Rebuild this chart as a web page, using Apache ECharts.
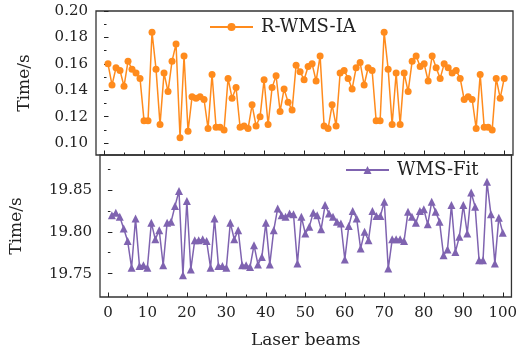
<!DOCTYPE html>
<html>
<head>
<meta charset="utf-8">
<script src="https://cdn.jsdelivr.net/npm/echarts@6/dist/echarts.min.js"></script>
<style>
html, body { margin: 0; padding: 0; background: #fff; }
#chart { width: 520px; height: 354px; }
</style>
</head>
<body>
<div id="chart"></div>
<script>
// time per laser beam (beam 1..100)
var timeIA = [
	0.160, 0.144, 0.157, 0.155, 0.143, 0.162, 0.156, 0.153, 0.149, 0.117,
	0.117, 0.184, 0.156, 0.114, 0.153, 0.139, 0.162, 0.175, 0.104, 0.166,
	0.109, 0.135, 0.134, 0.135, 0.133, 0.111, 0.152, 0.112, 0.112, 0.110,
	0.149, 0.134, 0.142, 0.112, 0.113, 0.111, 0.129, 0.113, 0.120, 0.148,
	0.114, 0.142, 0.151, 0.124, 0.141, 0.131, 0.125, 0.159, 0.154, 0.148,
	0.158, 0.160, 0.147, 0.166, 0.113, 0.111, 0.129, 0.113, 0.153, 0.155,
	0.149, 0.141, 0.157, 0.161, 0.144, 0.157, 0.155, 0.117, 0.117, 0.184,
	0.156, 0.114, 0.153, 0.114, 0.153, 0.139, 0.162, 0.166, 0.158, 0.160,
	0.147, 0.166, 0.157, 0.149, 0.160, 0.157, 0.153, 0.155, 0.149, 0.133,
	0.135, 0.133, 0.111, 0.152, 0.112, 0.112, 0.110, 0.149, 0.134, 0.149
];
var timeFit = [
	19.820, 19.823, 19.818, 19.804, 19.789, 19.757, 19.816, 19.759, 19.760, 19.757,
	19.811, 19.791, 19.802, 19.760, 19.811, 19.812, 19.831, 19.849, 19.748, 19.837,
	19.755, 19.790, 19.790, 19.791, 19.789, 19.757, 19.816, 19.759, 19.759, 19.757,
	19.811, 19.791, 19.802, 19.760, 19.760, 19.758, 19.784, 19.761, 19.770, 19.811,
	19.761, 19.802, 19.828, 19.820, 19.818, 19.822, 19.821, 19.762, 19.818, 19.798,
	19.806, 19.823, 19.820, 19.803, 19.832, 19.822, 19.818, 19.812, 19.810, 19.767,
	19.807, 19.825, 19.816, 19.780, 19.800, 19.790, 19.825, 19.819, 19.819, 19.836,
	19.756, 19.791, 19.791, 19.791, 19.789, 19.824, 19.818, 19.811, 19.825, 19.827,
	19.809, 19.836, 19.824, 19.812, 19.772, 19.779, 19.832, 19.776, 19.794, 19.832,
	19.798, 19.847, 19.830, 19.766, 19.766, 19.860, 19.821, 19.762, 19.817, 19.799
];

var xMajorTicks = [0, 10, 20, 30, 40, 50, 60, 70, 80, 90, 100];
var xMinorTicks = [5, 15, 25, 35, 45, 55, 65, 75, 85, 95];
var iaMajorTicks = [0.10, 0.12, 0.14, 0.16, 0.18, 0.20];
var iaMinorTicks = [0.11, 0.13, 0.15, 0.17, 0.19];
var fitMajorTicks = [19.75, 19.80, 19.85];
var fitMinorTicks = [19.775, 19.825, 19.875];

var FONT = 'DejaVu Serif';
var INK = '#222';
var ORANGE = '#ff8b1d';
var PURPLE = '#7f63b0';

function toPairs(arr) {
	return arr.map(function (v, i) { return [i + 1, v]; });
}

function xAxis(grid, ticks, len, labels) {
	return {
		type: 'value', gridIndex: grid, position: 'bottom',
		min: -2, max: 102.2,
		splitLine: { show: false },
		axisLine: { show: false },
		axisTick: { show: true, inside: true, length: len, customValues: ticks,
			lineStyle: { color: INK, width: 1 } },
		axisLabel: labels ? {
			show: true, customValues: labels, margin: 9,
			fontFamily: FONT, fontSize: 15, color: INK,
			formatter: function (v) { return String(v); }
		} : { show: false },
		name: labels ? 'Laser beams' : '',
		nameLocation: 'middle', nameGap: 35,
		nameTextStyle: { fontFamily: FONT, fontSize: 17, color: INK }
	};
}

function yAxis(grid, min, max, ticks, len, labels, gap) {
	return {
		type: 'value', gridIndex: grid, position: 'left',
		min: min, max: max,
		splitLine: { show: false },
		axisLine: { show: false },
		axisTick: { show: true, inside: true, length: len, customValues: ticks,
			lineStyle: { color: INK, width: 1 } },
		axisLabel: labels ? {
			show: true, customValues: labels, margin: 8,
			fontFamily: FONT, fontSize: 15, color: INK,
			formatter: function (v) { return v.toFixed(2); }
		} : { show: false },
		name: labels ? 'Time/s' : '',
		nameLocation: 'middle', nameGap: gap, nameRotate: 90,
		nameTextStyle: { fontFamily: FONT, fontSize: 17, color: INK }
	};
}

function legend(name, left, top) {
	return {
		data: [name], left: left, top: top, padding: 0,
		itemWidth: 43, itemHeight: 10,
		textStyle: { fontFamily: FONT, fontSize: 18, color: INK, padding: [0, 0, 0, 3] }
	};
}

var chart = echarts.init(document.getElementById('chart'));
chart.setOption({
	animation: false,
	backgroundColor: '#fff',
	grid: [
		{ left: 96, right: 7, top: 11, height: 144, show: true, borderColor: '#333', borderWidth: 1.3 },
		{ left: 96, right: 7, top: 155, height: 142, show: true, borderColor: '#333', borderWidth: 1.3 }
	],
	xAxis: [
		xAxis(0, xMajorTicks, 4.5, null),
		xAxis(1, xMajorTicks, 4.5, xMajorTicks),
		xAxis(0, xMinorTicks, 2.5, null),
		xAxis(1, xMinorTicks, 2.5, null)
	],
	yAxis: [
		yAxis(0, 0.091, 0.20, iaMajorTicks, 4.5, iaMajorTicks, 63),
		yAxis(1, 19.722, 19.892, fitMajorTicks, 4.5, fitMajorTicks, 75),
		yAxis(0, 0.091, 0.20, iaMinorTicks, 2.5, null, 0),
		yAxis(1, 19.722, 19.892, fitMinorTicks, 2.5, null, 0)
	],
	legend: [
		legend('R-WMS-IA', 209, 18),
		legend('WMS-Fit', 345, 161)
	],
	series: [
		{
			name: 'R-WMS-IA', type: 'line', xAxisIndex: 0, yAxisIndex: 0,
			data: toPairs(timeIA),
			symbol: 'circle', symbolSize: 7,
			color: ORANGE,
			lineStyle: { width: 1.5, color: ORANGE },
			itemStyle: { color: ORANGE }
		},
		{
			name: 'WMS-Fit', type: 'line', xAxisIndex: 1, yAxisIndex: 1,
			data: toPairs(timeFit),
			symbol: 'triangle', symbolSize: 8,
			color: PURPLE,
			lineStyle: { width: 1.5, color: PURPLE },
			itemStyle: { color: PURPLE }
		}
	]
});
</script>
</body>
</html>
